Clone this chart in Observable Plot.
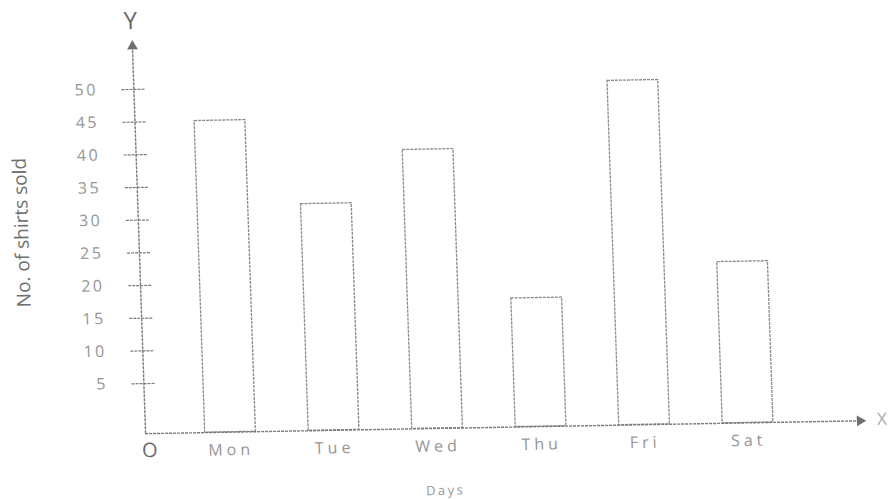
<!DOCTYPE html>
<html>
<head>
<meta charset="utf-8">
<script src="https://cdn.jsdelivr.net/npm/d3@7"></script>
<script src="https://cdn.jsdelivr.net/npm/@observablehq/plot@0.6"></script>
<style>
  html, body { margin: 0; padding: 0; background: #fff; overflow: hidden; }
  #chart svg text { letter-spacing: 2.5px; }
</style>
</head>
<body>
<div id="chart"></div>
<script>
// ---- data ----
const days = ["Mon", "Tue", "Wed", "Thu", "Fri", "Sat"];
const shirts = [45, 32, 40, 17, 50, 22];
const yTicks = [5, 10, 15, 20, 25, 30, 35, 40, 45, 50];
const yTitle = "No. of shirts sold";
const xTitle = "Days";

const data = days.map((day, i) => ({ day, i, shirts: shirts[i] }));

// axis extents (in data units)
const xAxisAt = -0.821, yBase = -2.66, yTop = 57.2, xEnd = 6.12;
const halfBar = 0.245;
const ink = "#8a8a8a";
const textInk = "#959595";

const plot = Plot.plot({
  width: 891,
  height: 499,
  margin: 0,
  x: { type: "linear", domain: [0, 5], range: [224, 741.5], axis: null },
  y: { type: "linear", domain: [0, 50], range: [410.3, 83.4], axis: null },
  style: { background: "#fff", fontFamily: "'Open Sans', sans-serif", overflow: "visible" },
  marks: [
    // bars
    Plot.rectY(data, {
      x1: d => d.i - halfBar, x2: d => d.i + halfBar,
      y1: yBase, y2: "shirts",
      fill: "white", stroke: ink, strokeWidth: 1.3, strokeDasharray: "3 1"
    }),
    // y axis line + arrowhead
    Plot.ruleX([xAxisAt], { x: d => d, y1: yBase, y2: yTop, stroke: "#7a7a7a", strokeWidth: 1.4, strokeDasharray: "3 1" }),
    Plot.dot([0], { x: xAxisAt, y: yTop, dy: 4, symbol: "triangle", r: 4, fill: "#6f6f6f" }),
    // x axis line + arrowhead
    Plot.ruleY([yBase], { y: d => d, x1: xAxisAt, x2: xEnd, stroke: "#7a7a7a", strokeWidth: 1.4, strokeDasharray: "3 1" }),
    Plot.dot([0], { x: xEnd, y: yBase, dx: -4, symbol: "triangle", rotate: 90, r: 4, fill: "#6f6f6f" }),
    // y ticks
    Plot.ruleY(yTicks, { y: d => d, x1: xAxisAt - 0.115, x2: xAxisAt + 0.115, stroke: "#7a7a7a", strokeWidth: 1.2, strokeDasharray: "3 1" }),
    Plot.text(yTicks, { x: xAxisAt, y: d => d, text: d => String(d), dx: -36, textAnchor: "end", fontSize: 16, fill: textInk }),
    // day labels
    Plot.text(data, { x: "i", y: yBase, text: "day", dy: 18, fontSize: 16, fill: textInk }),
    // origin, axis letters
    Plot.text(["O"], { x: xAxisAt, y: yBase, dx: 5, dy: 17, fontSize: 20, fill: "#6a6a6a" }),
    Plot.text(["Y"], { x: xAxisAt, y: yTop, dy: -21, fontSize: 24, fill: "#6a6a6a" }),
    Plot.text(["X"], { x: xEnd, y: yBase, dx: 13, dy: -1, textAnchor: "start", fontSize: 17, fill: "#aaa" }),
    // titles
    Plot.text([yTitle], { frameAnchor: "left", dx: 22.5, dy: -25, rotate: -90, textAnchor: "middle", lineAnchor: "middle", fontSize: 19, fill: "#707070" }),
    Plot.text([xTitle], { frameAnchor: "bottom", dx: -8.5, dy: -9, textAnchor: "middle", lineAnchor: "middle", fontSize: 13, fill: "#999" })
  ]
});

// emulate the slight skew of the scanned original
plot.style.transformOrigin = "445.5px 249.5px";
plot.style.transform = "matrix(1, -0.018, 0.034, 1, 0, 0)";
const sel = d3.select(plot).selectAll("text");
sel.filter(function () { return this.textContent === yTitle || this.textContent === "X"; })
  .style("letter-spacing", "0px");
sel.filter(function () { return days.includes(this.textContent); })
  .style("letter-spacing", "4px");

document.getElementById("chart").appendChild(plot);
</script>
</body>
</html>
